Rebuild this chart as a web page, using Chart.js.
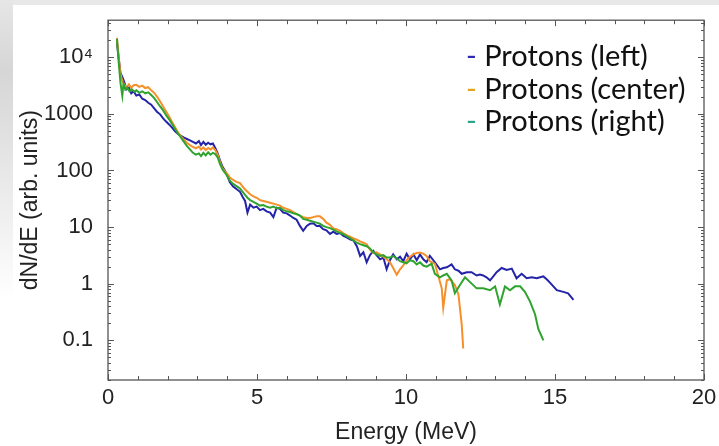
<!DOCTYPE html>
<html>
<head>
<meta charset="utf-8">
<script src="https://cdn.jsdelivr.net/npm/chart.js@4.4.0/dist/chart.umd.min.js"></script>
<style>
  body { margin: 0; background: #fff; }
  #wrap { position: relative; width: 719px; height: 446px; overflow: hidden; }
  .edgeTop { position: absolute; left: 0; top: 0; width: 719px; height: 5px; background: #e8e8e8; }
  .edgeLeft { position: absolute; left: 0; top: 0; width: 13px; height: 446px;
    background: linear-gradient(to bottom, #e6e6e6 0px, #d6d6d6 70px, #dedede 120px, #f2f2f2 230px, #ffffff 300px); }
  #spectrum { position: absolute; left: 0; top: 0; }
  #legend { position: absolute; left: 466px; top: 39px; font-family: Lato, sans-serif;
    font-size: 29px; line-height: 32.5px; color: #111; white-space: nowrap; }
</style>
</head>
<body>
<div id="wrap">
  <div class="edgeTop"></div>
  <div class="edgeLeft"></div>
  <canvas id="spectrum" width="719" height="446"></canvas>
  <div id="legend">
    <div><span style="color:#2b2bb0">-</span> Protons (left)</div>
    <div><span style="color:#e3a51c">-</span> Protons (center)</div>
    <div><span style="color:#2ca58a">-</span> Protons (right)</div>
  </div>
</div>
<script>
// proton spectra, [energy MeV, dN/dE]
const protonsLeft = [
  [0.30, 18000], [0.36, 9500], [0.42, 5200], [0.48, 4500], [0.55, 3600], [0.62, 2700], [0.70, 2900], [0.78, 2300],
  [0.86, 2500], [0.95, 2100], [1.05, 2200], [1.15, 1850], [1.25, 1750], [1.35, 1570], [1.45, 1450], [1.55, 1250],
  [1.65, 1080], [1.75, 980], [1.85, 830], [1.95, 730], [2.05, 650], [2.15, 570], [2.25, 490], [2.35, 440],
  [2.45, 410], [2.55, 380], [2.65, 360], [2.75, 340], [2.85, 320], [2.95, 300], [3.05, 330], [3.12, 280],
  [3.20, 320], [3.28, 285], [3.36, 310], [3.44, 290], [3.52, 300], [3.60, 250], [3.68, 200], [3.76, 150],
  [3.84, 118], [3.92, 100], [4.00, 82], [4.09, 62], [4.20, 52], [4.31, 47], [4.43, 42], [4.52, 34],
  [4.60, 29], [4.68, 18], [4.77, 25], [4.88, 22], [4.99, 23], [5.10, 20], [5.21, 21], [5.32, 19],
  [5.44, 18], [5.55, 15], [5.66, 22], [5.77, 21], [5.88, 18], [6.00, 17.5], [6.11, 16], [6.22, 14.5],
  [6.33, 13.5], [6.44, 10.5], [6.55, 8.6], [6.67, 10.5], [6.78, 11.5], [6.89, 11.7], [7.00, 10.5], [7.11, 10.5],
  [7.22, 9.2], [7.33, 8.8], [7.45, 7.6], [7.56, 8.3], [7.67, 7.6], [7.79, 7.9], [7.90, 7.0], [8.01, 6.6],
  [8.12, 6.1], [8.24, 5.8], [8.35, 4.6], [8.46, 3.1], [8.57, 3.6], [8.68, 2.4], [8.79, 3.2], [8.90, 3.8],
  [9.01, 3.2], [9.13, 2.7], [9.24, 2.9], [9.35, 1.8], [9.46, 2.6], [9.57, 3.3], [9.69, 2.7], [9.80, 3.0],
  [9.91, 2.5], [10.02, 3.4], [10.13, 2.7], [10.25, 3.3], [10.36, 2.6], [10.47, 3.3], [10.58, 2.7], [10.69, 2.4],
  [10.80, 3.1], [10.97, 2.4], [11.14, 1.8], [11.25, 1.9], [11.37, 1.95], [11.53, 2.2], [11.64, 1.8], [11.76, 1.7],
  [11.87, 1.5], [12.04, 1.6], [12.20, 1.6], [12.37, 1.4], [12.48, 1.45], [12.59, 1.4], [12.70, 1.3], [12.82, 1.15],
  [12.93, 1.35], [13.04, 1.6], [13.21, 1.9], [13.38, 1.75], [13.55, 1.85], [13.71, 1.25], [13.88, 1.5], [14.05, 1.25],
  [14.22, 1.3], [14.39, 1.25], [14.50, 1.3], [14.61, 1.35], [14.72, 1.2], [14.83, 1.05], [15.06, 0.77], [15.28, 0.72],
  [15.44, 0.68], [15.62, 0.52]
];

const protonsCenter = [
  [0.30, 22000], [0.36, 10000], [0.42, 5000], [0.48, 3800], [0.55, 3300], [0.62, 2900], [0.70, 3300], [0.78, 2900],
  [0.86, 3200], [0.95, 3250], [1.05, 3000], [1.15, 3150], [1.25, 2850], [1.35, 2950], [1.45, 2600], [1.55, 2350],
  [1.65, 2000], [1.75, 1650], [1.85, 1350], [1.95, 1100], [2.05, 900], [2.15, 720], [2.25, 580], [2.35, 470],
  [2.45, 400], [2.55, 350], [2.65, 310], [2.75, 280], [2.85, 260], [2.95, 245], [3.05, 265], [3.12, 235],
  [3.20, 255], [3.28, 230], [3.36, 250], [3.44, 235], [3.52, 255], [3.60, 230], [3.68, 190], [3.76, 140],
  [3.84, 110], [3.92, 97], [4.00, 88], [4.09, 75], [4.20, 68], [4.31, 63], [4.43, 60], [4.52, 52],
  [4.60, 46], [4.68, 42], [4.77, 38], [4.88, 35], [4.99, 33], [5.10, 30], [5.21, 29], [5.32, 28],
  [5.44, 27], [5.55, 26], [5.66, 25], [5.77, 24], [5.88, 22], [6.00, 21], [6.11, 20], [6.22, 18.5],
  [6.33, 17], [6.44, 16], [6.55, 15], [6.67, 14.5], [6.78, 14.5], [6.89, 15], [7.00, 15.5], [7.11, 15.5],
  [7.22, 14], [7.33, 12], [7.45, 11], [7.56, 9.5], [7.67, 9.2], [7.79, 8.6], [7.90, 7.8], [8.01, 7.2],
  [8.12, 6.8], [8.24, 6.3], [8.35, 6.0], [8.46, 5.6], [8.57, 5.3], [8.68, 5.0], [8.79, 4.0], [8.90, 3.5],
  [9.01, 3.6], [9.13, 3.3], [9.24, 3.0], [9.35, 2.7], [9.46, 2.4], [9.57, 1.9], [9.69, 1.45], [9.80, 1.8],
  [9.91, 2.1], [10.02, 2.6], [10.13, 3.0], [10.25, 3.3], [10.36, 3.5], [10.47, 3.55], [10.58, 3.4], [10.69, 3.1],
  [10.80, 2.5], [10.97, 2.25], [11.08, 1.4], [11.20, 0.83], [11.25, 0.38], [11.37, 1.15], [11.48, 1.2], [11.64, 0.95],
  [11.76, 0.65], [11.87, 0.19], [11.92, 0.072]
];

const protonsRight = [
  [0.30, 21000], [0.36, 8000], [0.42, 3500], [0.48, 2100], [0.52, 3400], [0.58, 2700], [0.65, 2900], [0.72, 2500],
  [0.80, 2700], [0.88, 2450], [0.95, 2600], [1.05, 2350], [1.15, 2500], [1.25, 2300], [1.35, 2400], [1.45, 2150],
  [1.55, 1900], [1.65, 1600], [1.75, 1350], [1.85, 1150], [1.95, 950], [2.05, 800], [2.15, 660], [2.25, 540],
  [2.35, 450], [2.45, 380], [2.55, 320], [2.65, 270], [2.75, 235], [2.85, 205], [2.95, 190], [3.05, 200],
  [3.12, 180], [3.20, 205], [3.28, 185], [3.36, 210], [3.44, 190], [3.52, 205], [3.60, 195], [3.68, 170],
  [3.76, 130], [3.84, 105], [3.92, 92], [4.00, 80], [4.09, 66], [4.20, 58], [4.31, 53], [4.43, 48],
  [4.52, 42], [4.60, 37], [4.68, 33], [4.77, 30], [4.88, 28], [4.99, 26], [5.10, 24], [5.21, 24.5],
  [5.32, 23], [5.44, 22], [5.55, 23], [5.66, 21.5], [5.77, 22], [5.88, 20], [6.00, 19], [6.11, 18.5],
  [6.22, 17.5], [6.33, 17], [6.44, 16], [6.55, 14], [6.67, 13.5], [6.78, 13], [6.89, 12.5], [7.00, 12],
  [7.11, 11.5], [7.22, 10.5], [7.33, 10], [7.45, 9.6], [7.56, 9], [7.67, 8.4], [7.79, 7.9], [7.90, 7.5],
  [8.01, 6.9], [8.12, 6.4], [8.24, 5.8], [8.35, 5.3], [8.46, 5.0], [8.57, 4.8], [8.68, 4.6], [8.79, 4.2],
  [8.90, 3.6], [9.01, 3.3], [9.13, 3.1], [9.24, 3.2], [9.35, 2.9], [9.46, 2.9], [9.57, 3.1], [9.69, 2.8],
  [9.80, 2.5], [9.91, 2.4], [10.02, 2.3], [10.13, 2.6], [10.25, 2.5], [10.36, 2.2], [10.47, 2.4], [10.58, 2.1],
  [10.69, 2.0], [10.86, 2.25], [10.97, 1.5], [11.14, 1.3], [11.25, 1.4], [11.37, 1.5], [11.53, 1.15], [11.64, 0.68],
  [11.81, 0.95], [11.98, 1.3], [12.15, 1.07], [12.37, 0.83], [12.59, 0.83], [12.82, 0.77], [12.99, 0.9], [13.15, 0.43],
  [13.32, 0.9], [13.49, 0.77], [13.66, 0.9], [13.83, 0.9], [13.99, 0.72], [14.16, 0.49], [14.33, 0.29], [14.44, 0.16],
  [14.61, 0.10]
];

const xTickValues = [0, 5, 10, 15, 20];
const yTickValues = [0.1, 1, 10, 100, 1000, 10000];

const axisFont = { family: "'Liberation Sans', Arial, sans-serif", size: 22 };
const frameColor = '#555';

const toPoints = arr => arr.map(p => ({ x: p[0], y: p[1] }));

// frame plus inward tick marks on all four sides
const framePlugin = {
  id: 'frame',
  afterDraw(chart) {
    const { ctx, chartArea: a, scales } = chart;
    const xs = scales.x, ys = scales.y;
    ctx.save();
    ctx.strokeStyle = frameColor;
    ctx.lineWidth = 1.3;
    ctx.strokeRect(a.left, a.top, a.right - a.left, a.bottom - a.top);
    ctx.lineWidth = 1;
    ctx.beginPath();
    for (let e = xs.min; e <= xs.max; e += 1) {
      const px = Math.round(xs.getPixelForValue(e)) + 0.5;
      const len = e % 5 === 0 ? 6 : 4;
      ctx.moveTo(px, a.bottom); ctx.lineTo(px, a.bottom - len);
      ctx.moveTo(px, a.top); ctx.lineTo(px, a.top + len);
    }
    for (let d = -2; d <= 4; d++) {
      for (let m = 1; m <= 9; m++) {
        const v = m * Math.pow(10, d);
        if (v < ys.min || v > ys.max) continue;
        const py = Math.round(ys.getPixelForValue(v)) + 0.5;
        const len = m === 1 ? 6 : 3;
        ctx.moveTo(a.left, py); ctx.lineTo(a.left + len, py);
        ctx.moveTo(a.right, py); ctx.lineTo(a.right - len, py);
      }
    }
    ctx.stroke();
    ctx.restore();
  }
};

new Chart(document.getElementById('spectrum'), {
  type: 'line',
  data: {
    datasets: [
      { label: 'Protons (left)', data: toPoints(protonsLeft), borderColor: '#2424a8', order: 2 },
      { label: 'Protons (center)', data: toPoints(protonsCenter), borderColor: '#f5902a', order: 1 },
      { label: 'Protons (right)', data: toPoints(protonsRight), borderColor: '#2ea32e', order: 0 }
    ]
  },
  options: {
    responsive: false,
    animation: false,
    devicePixelRatio: 1,
    layout: { padding: { top: 12, right: 15, left: 0, bottom: 0 } },
    elements: {
      point: { radius: 0 },
      line: { borderWidth: 2, tension: 0, fill: false }
    },
    plugins: { legend: { display: false }, tooltip: { enabled: false } },
    scales: {
      x: {
        type: 'linear',
        min: 0, max: 20,
        grid: { display: false },
        border: { display: false },
        afterBuildTicks: s => { s.ticks = xTickValues.map(v => ({ value: v })); },
        afterFit: s => { s.height = 66; },
        ticks: { font: axisFont, color: '#222', padding: -3, maxRotation: 0 },
        title: { display: true, text: 'Energy (MeV)', font: { family: axisFont.family, size: 23 }, color: '#222', padding: 0 }
      },
      y: {
        type: 'logarithmic',
        min: 0.02, max: 45000,
        grid: { display: false },
        border: { display: false },
        afterBuildTicks: s => { s.ticks = yTickValues.map(v => ({ value: v })); },
        afterFit: s => { s.width = 108; },
        ticks: {
          font: axisFont, color: '#222', padding: 7,
          callback: v => (v === 10000 ? '10\u2074' : String(v))
        },
        title: { display: true, text: 'dN/dE (arb. units)', font: { family: axisFont.family, size: 23 }, color: '#222', padding: { top: 17, bottom: 0 } }
      }
    }
  },
  plugins: [framePlugin]
});
</script>
</body>
</html>
